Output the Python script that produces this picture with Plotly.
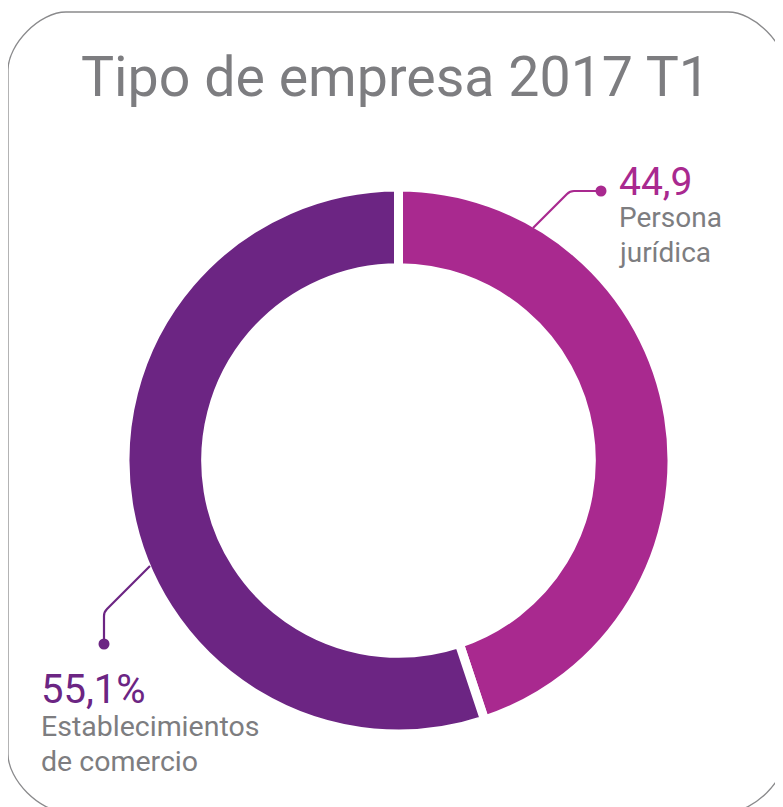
import plotly.graph_objects as go

# ---- data ----
categories = ["Persona jurídica", "Establecimientos de comercio"]
values = [44.9, 55.1]
value_labels = ["44,9", "55,1%"]
name_lines = [["Persona", "jurídica"], ["Establecimientos", "de comercio"]]
colors = ["#A9298F", "#6C2583"]
title_text = "Tipo de empresa 2017 T1"

W, H = 783, 807
OFF = 8  # page body margin: coordinates below are in page (screen) pixels
TEXT_GRAY = "#7d7d80"
FONT = "Roboto"

# pie geometry (screen pixels)
cx, cy, R = 398.5, 460.5, 273.5
fx, fy = cx - OFF, cy - OFF
fig = go.Figure()
fig.add_trace(go.Pie(
    labels=categories, values=values, sort=False, direction="clockwise",
    rotation=0, hole=0.705, textinfo="none", hoverinfo="label+value",
    marker=dict(colors=colors, line=dict(color="white", width=9)),
    domain=dict(x=[(fx - R) / W, (fx + R) / W],
                y=[(H - fy - R) / H, (H - fy + R) / H]),
    showlegend=False,
))

shapes = []
# rounded border
l, t, r, b, rad = 8, 12, 786, 812, 58
k = rad * 0.45
border = (f"M {l} {t+rad} C {l} {t+rad-k} {l+rad-k} {t} {l+rad} {t} "
          f"L {r-rad} {t} C {r-rad+k} {t} {r} {t+rad-k} {r} {t+rad} "
          f"L {r} {b-rad} C {r} {b-rad+k} {r-rad+k} {b} {r-rad} {b} "
          f"L {l+rad} {b} C {l+rad-k} {b} {l} {b-rad+k} {l} {b-rad} Z")
shapes.append(dict(type="path", path=border, xref="x", yref="y",
                   line=dict(color="#8a8a8c", width=1.3)))

# leader lines
lead1 = "M 533 228 L 567 194 Q 570 191 574 191 L 601 191"
lead2 = "M 150 566 L 107 609 Q 104 612 104 616 L 104 644"
for p, c in [(lead1, colors[0]), (lead2, colors[1])]:
    shapes.append(dict(type="path", path=p, xref="x", yref="y",
                       line=dict(color=c, width=2.2)))
for (x, y), c in [((601, 191), colors[0]), ((104, 644), colors[1])]:
    shapes.append(dict(type="circle", xref="x", yref="y",
                       x0=x - 5.5, x1=x + 5.5, y0=y - 5.5, y1=y + 5.5,
                       fillcolor=c, line=dict(width=0)))

ann = []
ann.append(dict(text=title_text, x=395, y=77, xref="x", yref="y",
                xanchor="center", yanchor="middle", showarrow=False,
                font=dict(family=FONT, size=55.5, color=TEXT_GRAY)))
# right label
ann.append(dict(text=value_labels[0], x=617, y=182, xref="x", yref="y",
                xanchor="left", yanchor="middle", showarrow=False,
                font=dict(family=FONT, size=39, color=colors[0])))
for i, ln in enumerate(name_lines[0]):
    ann.append(dict(text=ln, x=617, y=217 + 35 * i, xref="x", yref="y",
                    xanchor="left", yanchor="middle", showarrow=False,
                    font=dict(family=FONT, size=28, color=TEXT_GRAY)))
# left label
ann.append(dict(text=value_labels[1], x=39, y=689, xref="x", yref="y",
                xanchor="left", yanchor="middle", showarrow=False,
                font=dict(family=FONT, size=40, color=colors[1])))
for i, ln in enumerate(name_lines[1]):
    ann.append(dict(text=ln, x=39, y=726 + 35 * i, xref="x", yref="y",
                    xanchor="left", yanchor="middle", showarrow=False,
                    font=dict(family=FONT, size=28.5, color=TEXT_GRAY)))

fig.update_layout(
    width=W, height=H, margin=dict(l=0, r=0, t=0, b=0),
    paper_bgcolor="white", plot_bgcolor="rgba(0,0,0,0)",
    xaxis=dict(range=[OFF, W + OFF], visible=False, fixedrange=True),
    yaxis=dict(range=[H + OFF, OFF], visible=False, fixedrange=True),
    shapes=shapes, annotations=ann,
)
fig.write_html("out.html")
